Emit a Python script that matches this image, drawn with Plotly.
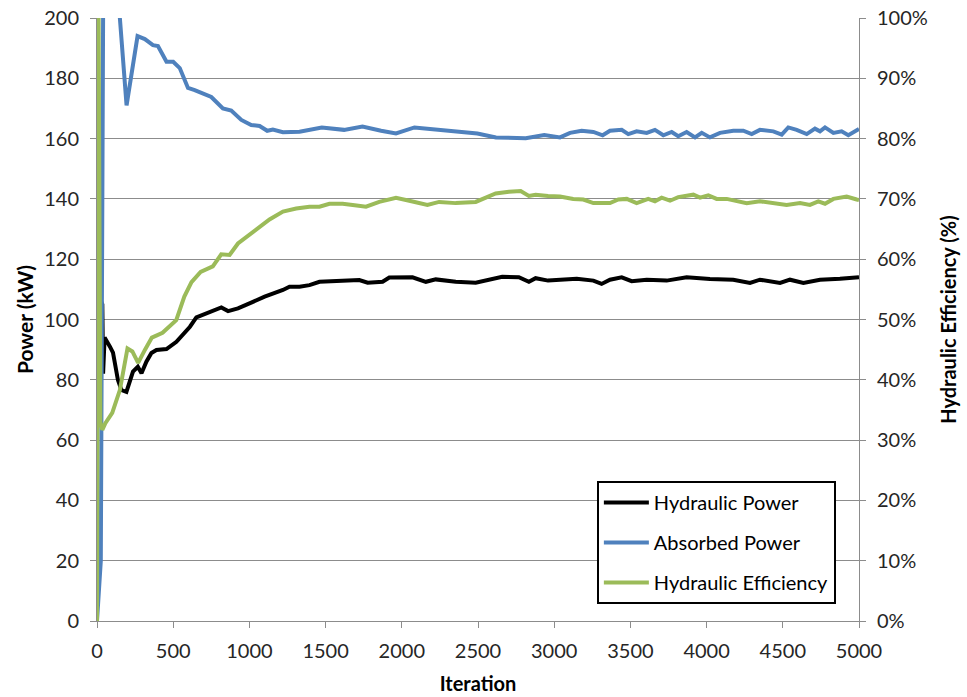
import plotly.graph_objects as go

# Iteration history of the pump run
hyd_iter = [0, 3, 10, 35, 40, 50, 85, 105, 137, 160, 193, 215, 236, 268, 292, 324, 357, 390,
            456, 521, 610, 652, 750, 816, 860, 925, 1012, 1100, 1220, 1263, 1329, 1394, 1460,
            1721, 1776, 1874, 1918, 2070, 2158, 2223, 2354, 2485, 2659, 2768, 2834, 2878, 2960,
            3038, 3148, 3257, 3311, 3366, 3443, 3508, 3607, 3738, 3869, 4022, 4175, 4285, 4350,
            4482, 4547, 4635, 4744, 4875, 4985, 5000]
hyd_power = [50, 184, 108, 105, 82, 94, 91, 89, 80, 76.6, 76, 80, 82.7, 84.3, 82.2, 86, 88.9, 89.9,
             90.2, 92.6, 97.6, 100.7, 102.6, 104, 102.8, 103.7, 105.6, 107.6, 109.8, 110.9, 110.9, 111.4, 112.5,
             113.1, 112.2, 112.5, 113.9, 114, 112.5, 113.3, 112.5, 112.2, 114.2, 114, 112.5, 113.7, 112.9,
             113.2, 113.5, 112.9, 111.8, 113.2, 114.0, 112.7, 113.2, 112.9, 114.0, 113.4, 113.2, 112.1, 113.2,
             112.1, 113.2, 112.1, 113.2, 113.5, 114.0, 114.0]

abs_iter = [0, 25, 45, 130, 150, 194, 266, 314, 367, 400, 456, 500, 543, 597, 641, 750, 826, 881,
            947, 1012, 1067, 1117, 1154, 1220, 1329, 1475, 1621, 1742, 1864, 1962, 2083, 2253, 2375,
            2496, 2618, 2813, 2935, 3038, 3104, 3180, 3257, 3318, 3366, 3443, 3486, 3541, 3607, 3661,
            3716, 3771, 3814, 3869, 3924, 3968, 4022, 4088, 4175, 4241, 4296, 4350, 4438, 4493, 4536,
            4591, 4657, 4711, 4744, 4777, 4832, 4886, 4930, 4985, 5000]
abs_power = [0, 20, 260, 230, 200, 171, 194, 193, 191, 190.7, 185.5, 185.5, 183.4, 176.8, 176.1, 173.8, 170, 169.3,
             166.2, 164.5, 164.2, 162.6, 163, 162.1, 162.3, 163.7, 162.9, 164, 162.6, 161.7, 163.7, 163, 162.3,
             161.7, 160.4, 160.1, 161.2, 160.4, 161.9, 162.6, 162.2, 161.1, 162.6, 162.9, 161.5, 162.4, 161.9, 162.9,
             161.1, 162.2, 160.8, 162.2, 160.4, 161.9, 160.4, 161.9, 162.6, 162.6, 161.5, 162.9, 162.4, 161.3, 163.7,
             162.9, 161.5, 163.3, 162.4, 163.7, 161.9, 162.4, 161.1, 162.9, 163.2]

eff_iter = [0, 10, 22, 35, 55, 100, 150, 183, 200, 232, 270, 315, 360, 430, 520, 573, 620, 680, 760,
            815, 870, 925, 1012, 1067, 1132, 1220, 1307, 1394, 1460, 1525, 1612, 1678, 1765, 1852, 1962,
            2049, 2168, 2245, 2354, 2485, 2616, 2703, 2780, 2834, 2878, 2960, 3038, 3125, 3191, 3257,
            3366, 3421, 3476, 3541, 3617, 3661, 3705, 3760, 3814, 3913, 3957, 4011, 4066, 4132, 4263,
            4350, 4438, 4525, 4613, 4678, 4733, 4777, 4832, 4919, 4985, 5000]
eff_pct = [0, 104, 33.0, 31.7, 32.8, 34.5, 38.3, 43.3, 45.2, 44.7, 42.8, 45.0, 47.0, 47.8, 49.9, 53.8, 56.2, 57.9, 58.8,
           60.8, 60.7, 62.6, 64.3, 65.4, 66.6, 67.9, 68.4, 68.7, 68.7, 69.2, 69.2, 69.0, 68.7, 69.5, 70.2,
           69.7, 69.0, 69.5, 69.3, 69.5, 70.9, 71.2, 71.3, 70.5, 70.7, 70.5, 70.4, 70.0, 69.9, 69.3,
           69.3, 69.9, 70.0, 69.3, 70.0, 69.6, 70.2, 69.7, 70.3, 70.7, 70.2, 70.6, 70.0, 70.0, 69.3,
           69.6, 69.3, 69.0, 69.3, 69.0, 69.6, 69.2, 70.0, 70.4, 69.9, 69.8]

x_ticks = list(range(0, 5001, 500))
y_ticks = list(range(0, 201, 20))
y2_ticks = list(range(0, 101, 10))
y2_labels = [f"{v}%" for v in y2_ticks]

FONT = "Lato, Carlito, Calibri, sans-serif"
GRID = "#8c8c8c"
TEXT = "#262626"

fig = go.Figure()
fig.add_trace(go.Scatter(x=hyd_iter, y=hyd_power, name="Hydraulic Power", mode="lines",
                         line=dict(color="#000000", width=4), legendgroup="a"))
fig.add_trace(go.Scatter(x=abs_iter, y=abs_power, name="Absorbed Power", mode="lines",
                         line=dict(color="#4f81bd", width=4), legendgroup="b"))
fig.add_trace(go.Scatter(x=eff_iter, y=eff_pct, name="Hydraulic Efficiency", mode="lines",
                         line=dict(color="#9bbb59", width=4), legendgroup="c", yaxis="y2"))

axis_common = dict(ticks="outside", ticklen=6, tickcolor=GRID, showline=True, linecolor=GRID,
                   linewidth=1, zeroline=False, automargin=False, tickfont=dict(size=20, color=TEXT))

fig.update_layout(
    width=967, height=697,
    margin=dict(l=97, r=108, t=18, b=76),
    paper_bgcolor="white", plot_bgcolor="white",
    font=dict(family=FONT, size=20, color=TEXT),
    xaxis=dict(range=[0, 5000], tickvals=x_ticks, showgrid=False, ticklabelstandoff=6,
               title=dict(text="<b>Iteration</b>", font=dict(size=20, color="#000000"), standoff=15),
               **axis_common),
    yaxis=dict(range=[0, 200], tickvals=y_ticks, showgrid=True, gridcolor=GRID, gridwidth=1,
               ticklabelstandoff=7,
               title=dict(text="<b>Power (kW)</b>", font=dict(size=21, color="#000000"), standoff=4),
               **axis_common),
    yaxis2=dict(range=[0, 100], tickvals=y2_ticks, ticktext=y2_labels, overlaying="y", side="right",
                showgrid=False, ticklabelstandoff=7,
                title=dict(text="<b>Hydraulic Efficiency (%)</b>", font=dict(size=20, color="#000000"),
                           standoff=15),
                **axis_common),
    legend=dict(x=0.656, y=0.232, xanchor="left", yanchor="top", bgcolor="white",
                bordercolor="#000000", borderwidth=2, font=dict(size=20, color="#000000"),
                traceorder="grouped", tracegroupgap=11, itemwidth=45),
    showlegend=True,
)

fig.write_html("out.html")
